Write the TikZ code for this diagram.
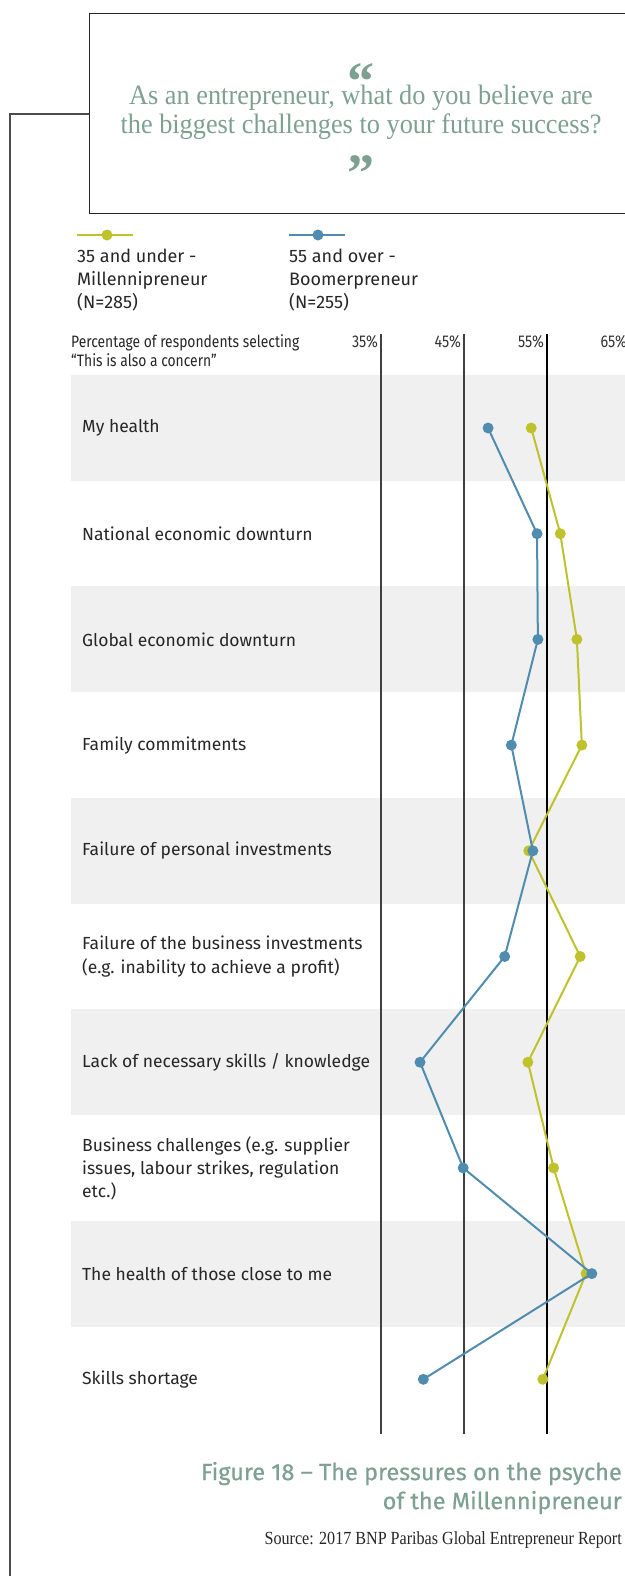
\documentclass[tikz,border=0pt]{standalone}
\usepackage{fontspec}
\setmainfont{Liberation Serif}
\newfontfamily\labelfont{Fira Sans}
\newfontfamily\narrowfont[FakeStretch=0.84]{Fira Sans}
\newfontfamily\captionfont[FakeBold=0.5]{Fira Sans}
\newfontfamily\titlefont[FakeStretch=0.94]{Liberation Serif}
\newfontfamily\sourcefont[FakeStretch=0.87]{Liberation Serif}
\usetikzlibrary{calc}
\definecolor{millgreen}{RGB}{190,195,45}
\definecolor{boomblue}{RGB}{80,140,175}
\definecolor{sage}{RGB}{125,160,145}
\definecolor{bandgray}{RGB}{240,240,240}
\def\pctx#1{381+(#1-35)*8.3}
\def\rowy#1{428+(#1-1)*105.7}
\def\qmark#1{{\fontspec{Liberation Serif}\bfseries\fontsize{54}{29}\selectfont #1}}

\begin{document}
\begin{tikzpicture}[x=1pt, y=-1pt,
	rowlabel/.style={anchor=west, align=left, inner sep=0pt, text=black!85, font=\labelfont\fontsize{17.5}{24}\selectfont},
	ticklabel/.style={anchor=east, inner sep=0pt, text=black!80, font=\narrowfont\fontsize{17}{19}\selectfont},
	millline/.style={millgreen, line width=2pt},
	boomline/.style={boomblue, line width=2pt}]
		%%%%% START %%%%%
		
		\useasboundingbox (0,0) rectangle (624,1576);
		
		\draw[black!70, line width=1.2pt] (10,1590) -- (10,114) -- (89,114);
		\draw[black!85, line width=1pt] (89,14) rectangle (660,213);
		
		\node[anchor=north, align=center, inner sep=0pt, text=sage, font=\titlefont\fontsize{28}{29}\selectfont] (question) at (361,63)
			{\qmark{“}\\[-24pt]As an entrepreneur, what do you believe are\\the biggest challenges to your future success?\\[15pt]\qmark{”}};
		
		% legend
		\coordinate (mill a) at (77,235); \coordinate (mill b) at (133,235);
		\coordinate (boom a) at (289,235); \coordinate (boom b) at (345,235);
		\draw[millline] (mill a) -- (mill b);
		\fill[millgreen] (107,235) circle (5.5pt);
		\draw[boomline] (boom a) -- (boom b);
		\fill[boomblue] (318,235) circle (5.5pt);
		\node[rowlabel, font=\labelfont\fontsize{18}{23}\selectfont] (legmill) at (77,280) {35 and under -\\Millennipreneur\\(N=285)};
		\node[rowlabel, font=\labelfont\fontsize{18}{23}\selectfont] (legboom) at (289,280) {55 and over -\\Boomerpreneur\\(N=255)};
		
		\node[rowlabel, font=\narrowfont\fontsize{16.5}{19}\selectfont] (axistitle) at (71,351) {Percentage of respondents selecting\\“This is also a concern”};
		
		% bands
		\foreach \i in {1,3,5,7,9}
			\fill[bandgray] (71,{\rowy{\i}-53}) rectangle (660,{\rowy{\i}+53});
		
		% axis lines
		\foreach \p/\c in {35/black!75, 45/black!75, 55/black}{
			\draw[\c, line width=1.2pt] ({\pctx{\p}},334) -- ({\pctx{\p}},1434);
			\node[ticklabel] (tick\p) at ({\pctx{\p}-3},342) {\p\%};
		}
		\node[ticklabel] (tick65) at ({\pctx{65}-3},342) {65\%};
		
		% row labels
		\node[rowlabel] (label1) at (82,{\rowy{1}}) {My health};
		\node[rowlabel] (label2) at (82,{\rowy{2}}) {National economic downturn};
		\node[rowlabel] (label3) at (82,{\rowy{3}}) {Global economic downturn};
		\node[rowlabel] (label4) at (82,{\rowy{4}}) {Family commitments};
		\node[rowlabel] (label5) at (82,{\rowy{5}}) {Failure of personal investments};
		\node[rowlabel] (label6) at (82,{\rowy{6}}) {Failure of the business investments\\(e.g. inability to achieve a profit)};
		\node[rowlabel] (label7) at (82,{\rowy{7}}) {Lack of necessary skills / knowledge};
		\node[rowlabel, font=\labelfont\fontsize{17.5}{23}\selectfont] (label8) at (82,{\rowy{8}}) {Business challenges (e.g. supplier\\issues, labour strikes, regulation\\etc.)};
		\node[rowlabel] (label9) at (82,{\rowy{9}}) {The health of those close to me};
		\node[rowlabel] (label10) at (82,{\rowy{10}}) {Skills shortage};
		
		% data points
		\foreach \i/\boom/\mill in {1/47.9/53.1, 2/53.8/56.6, 3/53.9/58.6, 4/50.7/59.2, 5/53.3/52.8, 6/49.9/59.0, 7/39.7/52.7, 8/44.9/55.8, 9/60.4/59.7, 10/40.1/54.5}{
			\coordinate (b\i) at ({\pctx{\boom}},{\rowy{\i}});
			\coordinate (m\i) at ({\pctx{\mill}},{\rowy{\i}});
		}
		
		\draw[millline] (m1) \foreach \i in {2,...,10}{ -- (m\i)};
		\foreach \i in {1,...,10} \fill[millgreen] (m\i) circle (5.5pt);
		\draw[boomline] (b1) \foreach \i in {2,...,10}{ -- (b\i)};
		\foreach \i in {1,...,10} \fill[boomblue] (b\i) circle (5.5pt);
		
		% caption
		\node[anchor=east, align=right, inner sep=0pt, text=sage, font=\captionfont\fontsize{23.5}{29}\selectfont] (caption) at (622,1488) {Figure 18 – The pressures on the psyche\\of the Millennipreneur};
		\node[anchor=east, inner sep=0pt, text=black!85, font=\sourcefont\fontsize{18.5}{20}\selectfont] (source) at (622,1540) {Source: 2017 BNP Paribas Global Entrepreneur Report};
		
		%%%%% END %%%%%
	\end{tikzpicture}
\end{document}
